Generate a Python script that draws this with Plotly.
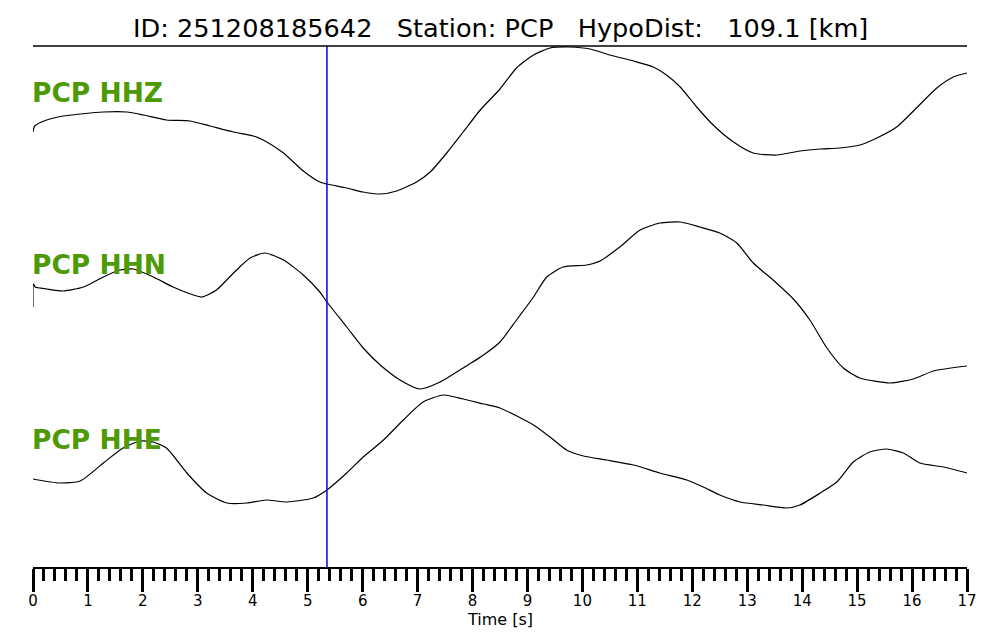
import plotly.graph_objects as go

# picked-up samples (time in s, amplitude in arbitrary counts)
HHZ_T = [0.00, 0.03, 0.25, 0.55, 0.86, 1.28, 1.71, 2.01, 2.43, 2.86, 3.22, 3.65, 4.01,
         4.19, 4.56, 4.92, 5.22, 5.35, 5.71, 6.01, 6.32, 6.62, 6.98, 7.23, 7.53, 7.83,
         8.14, 8.50, 8.80, 9.11, 9.41, 9.77, 10.14, 10.50, 10.93, 11.29, 11.53, 11.78,
         12.08, 12.38, 12.75, 13.11, 13.54, 13.96, 14.33, 14.69, 15.05, 15.36, 15.72,
         16.08, 16.45, 16.75, 17.00]
HHZ_A = [-12, -6, 0, 4, 6, 8, 8, 5, 0, -1, -6, -12, -16,
         -20, -33, -51, -62, -64, -68, -72, -74, -71, -62, -52, -33, -12,
         10, 31, 52, 65, 72, 73, 71, 65, 59, 53, 45, 33,
         13, -5, -22, -33, -35, -31, -29, -28, -25, -18, -7,
         12, 32, 43, 47]

HHN_T = [0.00, 0.01, 0.04, 0.25, 0.55, 0.92, 1.28, 1.58, 1.83, 2.19, 2.55, 2.92, 3.07,
         3.34, 3.65, 3.95, 4.22, 4.56, 4.92, 5.22, 5.35, 5.71, 6.01, 6.32, 6.68, 7.04,
         7.41, 7.83, 8.20, 8.50, 8.80, 8.95, 9.11, 9.35, 9.65, 10.08, 10.32, 10.68, 11.05,
         11.41, 11.78, 12.14, 12.50, 12.81, 13.11, 13.47, 13.84, 14.14, 14.45, 14.75,
         15.05, 15.60, 16.02, 16.39, 17.00]
HHN_A = [-7, 16, 13, 11, 9, 13, 23, 30, 31, 23, 13, 5, 3,
         10, 27, 42, 47, 40, 25, 8, -2, -27, -48, -65, -80, -89,
         -82, -68, -55, -42, -20, -9, 3, 23, 33, 35, 39, 53, 70,
         77, 78, 73, 67, 57, 37, 20, 1, -20, -48, -68,
         -78, -83, -79, -71, -66]

HHE_T = [0.00, 0.49, 0.86, 1.28, 1.64, 1.95, 2.19, 2.43, 2.80, 3.16, 3.53, 3.89, 4.25,
         4.62, 5.10, 5.35, 5.71, 6.01, 6.38, 6.74, 7.10, 7.47, 7.83, 8.20, 8.50, 9.11,
         9.41, 9.71, 10.02, 10.44, 10.93, 11.41, 11.90, 12.20, 12.50, 12.87, 13.29,
         13.72, 13.96, 14.33, 14.63, 14.93, 15.23, 15.54, 15.84, 16.14, 16.57, 17.00]
HHE_A = [-9, -13, -11, 7, 22, 29, 28, 22, -3, -23, -33, -33, -30,
         -32, -28, -20, -3, 13, 30, 50, 68, 75, 71, 66, 62, 45,
         33, 20, 14, 10, 5, -3, -10, -17, -25, -32, -35,
         -38, -35, -23, -12, 8, 18, 21, 17, 7, 3, -3]

CHANNELS = ["PCP HHZ", "PCP HHN", "PCP HHE"]
OFFSETS = [447, 267, 97]
PICK_TIME = 5.35
TITLE = "ID: 251208185642   Station: PCP   HypoDist:   109.1 [km]"

GREEN = "#4e9a06"
FONT = "DejaVu Sans"

fig = go.Figure()
for t, a, off in zip([HHZ_T, HHN_T, HHE_T], [HHZ_A, HHN_A, HHE_A], OFFSETS):
    fig.add_trace(go.Scatter(
        x=t, y=[v + off for v in a], mode="lines",
        line=dict(color="black", width=1.2, shape="spline", smoothing=0.6),
        showlegend=False, hoverinfo="skip",
    ))

# channel labels, placed just above each trace
label_y = [0.9098, 0.5797, 0.2447]
for name, ly in zip(CHANNELS, label_y):
    fig.add_annotation(
        x=0, y=ly, xref="paper", yref="paper", xanchor="left", yanchor="middle",
        xshift=-3, text="<b>%s</b>" % name, showarrow=False,
        font=dict(family=FONT, size=26.5, color=GREEN),
    )

# P pick
fig.add_shape(type="line", x0=PICK_TIME, x1=PICK_TIME, y0=0, y1=1,
              xref="x", yref="paper", line=dict(color="#0000ee", width=1.5))
# top frame line
fig.add_shape(type="line", x0=0, x1=1, y0=1, y1=1, xref="paper", yref="paper",
              line=dict(color="black", width=1.5))

fig.add_annotation(
    x=0.5, y=1.0345, xref="paper", yref="paper", xanchor="center", yanchor="middle",
    text=TITLE.replace(" ", "\u00a0"), showarrow=False,
    font=dict(family=FONT, size=25.6, color="black"),
)
fig.add_annotation(
    x=0.5, y=-0.1, xref="paper", yref="paper", xanchor="center", yanchor="middle",
    text="Time [s]", showarrow=False, font=dict(family=FONT, size=16, color="black"),
)

# page body has an 8px margin, so the figure is drawn 8px smaller and shifted
fig.update_layout(
    width=992, height=632,
    margin=dict(l=25, r=33, t=38, b=73),
    plot_bgcolor="white", paper_bgcolor="white",
    font=dict(family=FONT, color="black"),
    xaxis=dict(
        range=[0, 17], dtick=1, tick0=0, showgrid=False, zeroline=False,
        showline=True, linecolor="black", linewidth=2,
        ticks="outside", ticklen=23, tickwidth=2.5, tickcolor="black",
        ticklabelstandoff=-4,
        tickfont=dict(family=FONT, size=15, color="black"),
        minor=dict(dtick=0.2, tick0=0, ticks="outside", ticklen=12,
                   tickwidth=2.5, tickcolor="black", showgrid=False),
    ),
    yaxis=dict(range=[0, 521], visible=False, showgrid=False, zeroline=False),
)

fig.write_html("out.html")
